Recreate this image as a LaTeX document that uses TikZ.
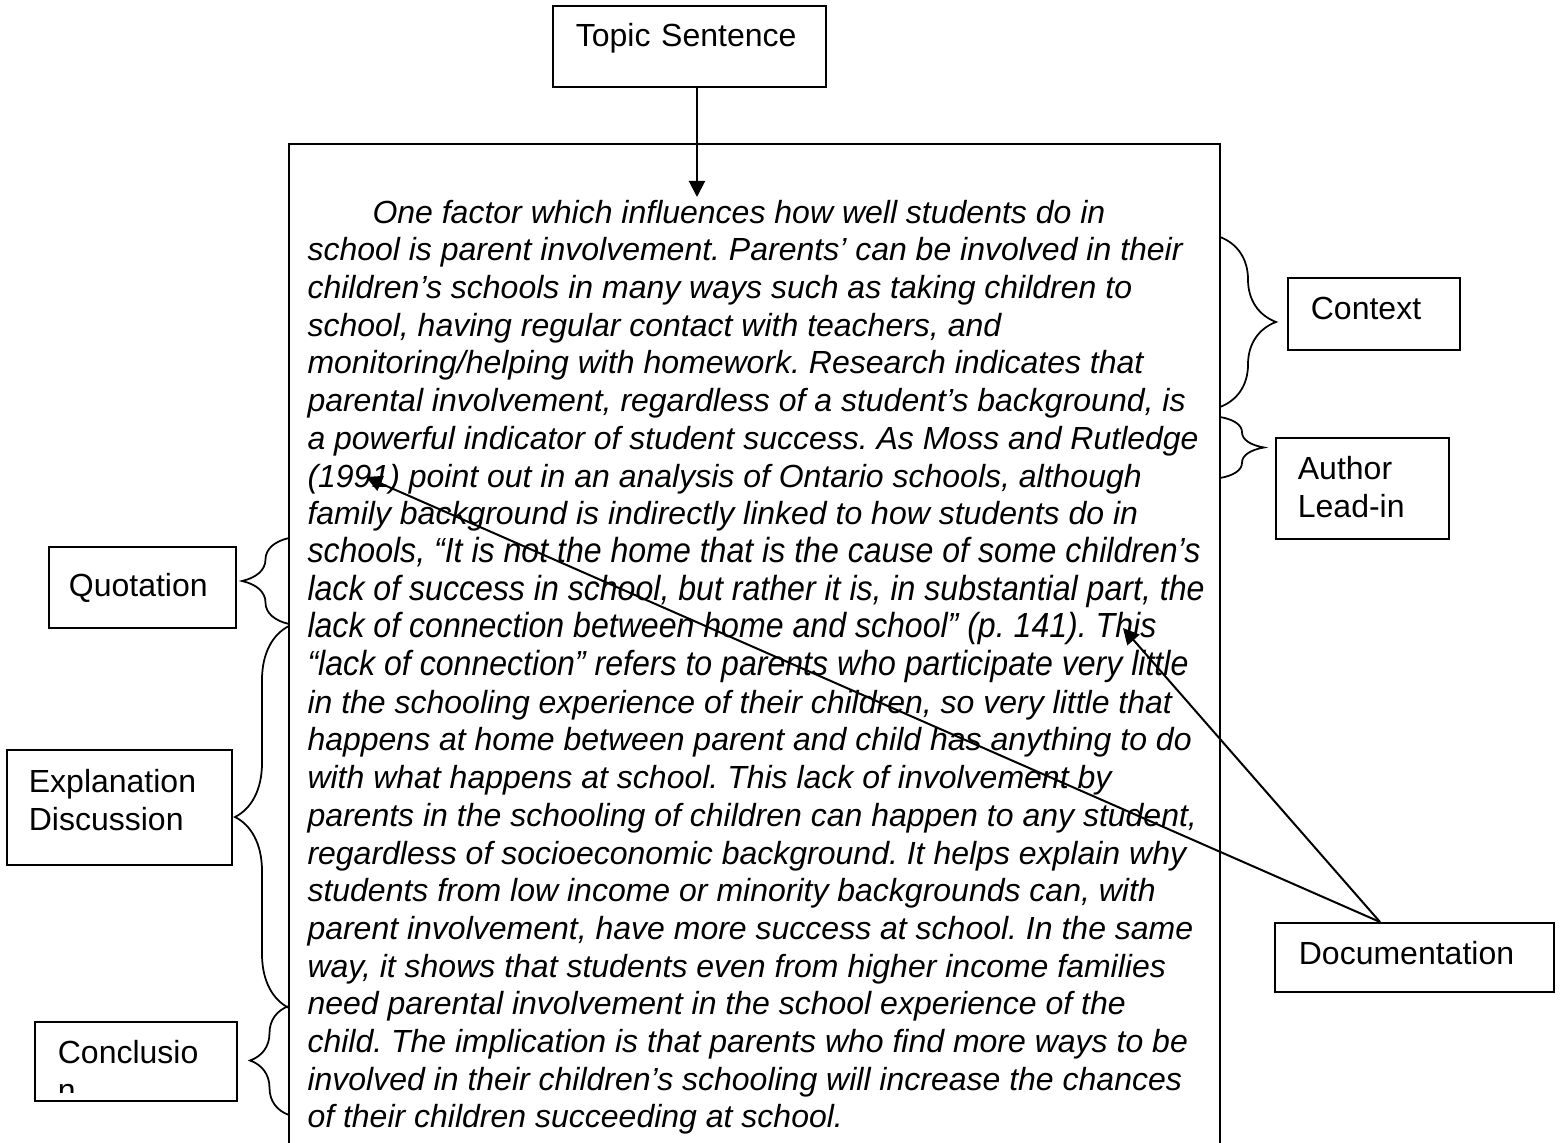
\documentclass[tikz,border=0pt]{standalone}
\usepackage{fontspec}
\setmainfont{Liberation Sans}
\newfontfamily\narrowfont[FakeStretch=0.92]{Liberation Sans}
\newcommand\squeezed[1]{{\narrowfont\itshape\fontsize{13.95pt}{15.08pt}\selectfont #1}}
\usetikzlibrary{arrows.meta, decorations.pathreplacing}

\begin{document}
\frenchspacing
\begin{tikzpicture}[x=0.4pt, y=-0.4pt, >={Stealth[length=6.4pt, width=6.4pt, inset=0pt]},
    tag/.style={draw, line width=0.7pt, anchor=north west, align=left, inner ysep=0pt,
      font=\fontsize{12.8pt}{15.08pt}\selectfont},
    curly/.style={decorate, decoration={brace, amplitude=#1}, line width=0.7pt}]
  \useasboundingbox (0,0) rectangle (1560,1143);
  \clip (0,0) rectangle (1560,1143);

  % the paragraph and its frame
  \draw[line width=0.9pt] (289,1160) |- (1220,144) -- (1220,1160);
  \node[anchor=base west, align=left, inner sep=0pt,
    font=\fontsize{12.8pt}{15.08pt}\selectfont\itshape] (para) at (307,1128) {%
    \hspace*{26pt}One factor which influences how well students do in\\
    school is parent involvement. Parents’ can be involved in their\\
    children’s schools in many ways such as taking children to\\
    school, having regular contact with teachers, and\\
    monitoring/helping with homework. Research indicates that\\
    parental involvement, regardless of a student’s background, is\\
    a powerful indicator of student success. As Moss and Rutledge\\
    (1991) point out in an analysis of Ontario schools, although\\
    family background is indirectly linked to how students do in\\
    \squeezed{schools, “It is not the home that is the cause of some children’s}\\
    \squeezed{lack of success in school, but rather it is, in substantial part, the}\\
    \squeezed{lack of connection between home and school” (p. 141). This}\\
    \squeezed{“lack of connection” refers to parents who participate very little}\\
    in the schooling experience of their children, so very little that\\
    happens at home between parent and child has anything to do\\
    with what happens at school. This lack of involvement by\\
    parents in the schooling of children can happen to any student,\\
    regardless of socioeconomic background. It helps explain why\\
    students from low income or minority backgrounds can, with\\
    parent involvement, have more success at school. In the same\\
    way, it shows that students even from higher income families\\
    need parental involvement in the school experience of the\\
    child. The implication is that parents who find more ways to be\\
    involved in their children’s schooling will increase the chances\\
    of their children succeeding at school.};

  % labels
  \node[tag, text width=90.8pt, inner xsep=9.2pt, text height=16.4pt, text depth=16pt] (topic) at (552,5) {Topic Sentence};
  \node[tag, text width=50.4pt, inner xsep=9.2pt, text height=16.8pt, text depth=12pt] (context) at (1287,277) {Context};
  \node[tag, text width=51.6pt, inner xsep=8.8pt, text height=16.8pt, text depth=23.6pt] (author) at (1275,437) {Author\\Lead-in};
  \node[tag, text width=92.4pt, inner xsep=9.6pt, text height=16.8pt, text depth=10.8pt] (doc) at (1274,922) {Documentation};
  \node[tag, text width=58.8pt, inner xsep=8pt, text height=20pt, text depth=12.4pt] (quote) at (48,546) {Quotation};
  \node[tag, text width=72.4pt, inner xsep=8.8pt, text height=17.2pt, text depth=28.8pt] (explain) at (6,749) {Explanation\\Discussion};
  \begin{scope}
    \clip (35,1022) rectangle (235,1092);
    \node[tag, draw=none, text width=62.4pt, inner xsep=8.8pt, text height=16.4pt, text depth=14.4pt] (concl) at (35,1022) {Conclusio\\n};
  \end{scope}
  \draw[line width=0.7pt] (concl.north west) rectangle (concl.south east);

  % braces
  \draw[curly=22.4pt] (1220,237) -- (1220,407);
  \draw[curly=17.6pt] (1220,417) -- (1220,478);
  \draw[curly=18.8pt] (289,624) -- (289,538);
  \draw[curly=21.6pt] (289,1008) -- (289,626);
  \draw[curly=15.6pt] (289,1115) -- (289,1006);

  % arrows
  \coordinate (topichead) at (697,197);
  \coordinate (cite) at (366,477);
  \coordinate (pagenum) at (1123,628);
  \coordinate (docfoot) at (1380,922);
  \draw[->, line width=0.8pt] (topic.south -| topichead) -- (topichead);
  \draw[->, line width=0.8pt] (docfoot) -- (cite);
  \draw[->, line width=0.8pt] (docfoot) -- (pagenum);
\end{tikzpicture}
\end{document}
